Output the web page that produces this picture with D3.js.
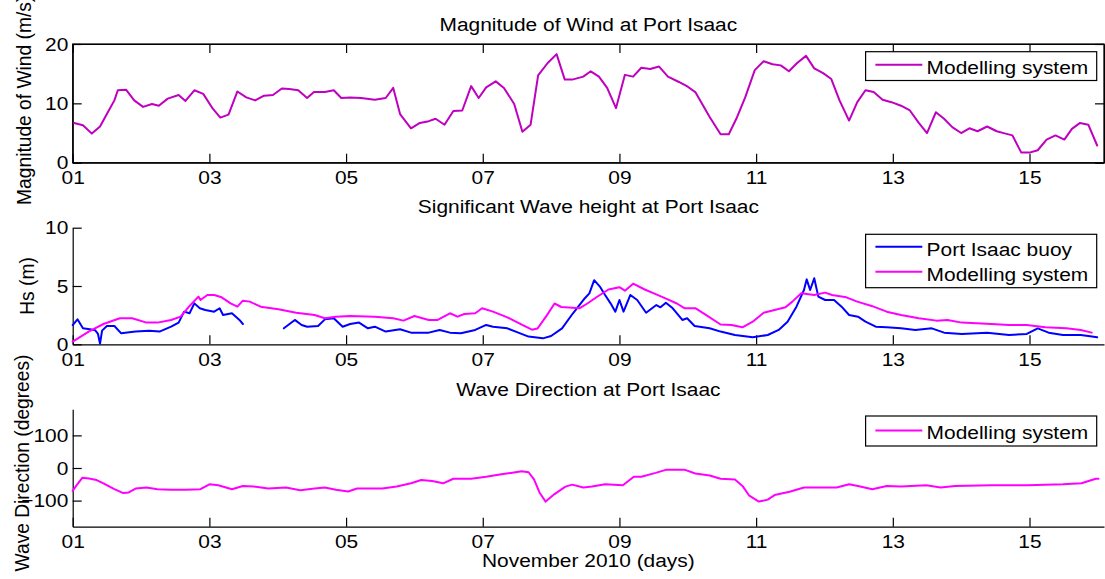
<!DOCTYPE html>
<html>
<head>
<meta charset="utf-8">
<script src="https://cdn.jsdelivr.net/npm/d3@7"></script>
<style>
  html, body { margin: 0; padding: 0; background: #fff; }
  svg { display: block; }
</style>
</head>
<body>
<svg id="chart" width="1105" height="579"></svg>
<script>
// ---- Wind speed, modelling system (m/s), time in days from 1 Nov 2010 ----
const windDay = [0.02,0.15,0.28,0.40,0.50,0.61,0.66,0.78,0.90,1.03,1.16,1.26,1.39,1.55,1.65,1.78,1.91,2.05,2.16,2.28,
  2.41,2.54,2.67,2.80,2.93,3.06,3.17,3.30,3.43,3.53,3.69,3.82,3.93,4.06,4.22,4.42,4.58,4.69,4.79,4.95,
  5.08,5.21,5.31,5.44,5.57,5.70,5.83,5.94,6.05,6.19,6.31,6.46,6.58,6.70,6.81,6.95,7.08,7.20,7.31,7.47,
  7.58,7.70,7.82,7.95,8.08,8.20,8.32,8.45,8.58,8.71,8.87,9.00,9.11,9.32,9.48,9.60,9.71,9.84,9.98,10.11,
  10.24,10.36,10.48,10.60,10.73,10.85,10.98,11.10,11.22,11.36,11.48,11.60,11.72,11.85,11.98,12.12,12.25,12.38,12.50,12.63,
  12.75,12.87,13.00,13.12,13.24,13.38,13.52,13.65,13.75,13.88,14.00,14.12,14.25,14.38,14.51,14.62,14.74,14.86,14.99];
const windSpeed = [6.7,6.3,4.9,6.1,8.2,10.5,12.2,12.3,10.5,9.4,9.9,9.6,10.8,11.4,10.4,12.2,11.6,9.1,7.6,8.1,
  12.0,11.0,10.5,11.3,11.4,12.5,12.4,12.2,10.9,11.9,11.9,12.2,10.9,11.0,10.9,10.6,10.9,12.6,8.2,5.8,
  6.7,7.0,7.4,6.4,8.7,8.8,12.9,10.9,12.7,13.7,12.6,9.9,5.2,6.4,14.7,16.8,18.3,14.0,14.0,14.5,
  15.4,14.5,12.6,9.2,14.8,14.5,16.0,15.8,16.2,14.5,13.6,12.8,11.9,7.7,4.8,4.8,7.4,11.0,15.6,17.1,
  16.6,16.4,15.4,16.8,18.0,15.9,15.1,14.1,10.5,7.1,10.2,12.2,11.9,10.6,10.2,9.6,8.8,6.7,5.0,8.5,
  7.4,6.0,5.0,5.8,5.3,6.1,5.3,4.9,4.6,1.7,1.7,2.1,3.9,4.6,3.9,5.7,6.7,6.4,2.9];

// ---- Significant wave height, modelling system (m) ----
const hsModelDay = [0.00,0.24,0.45,0.69,0.87,1.08,1.24,1.44,1.58,1.71,1.84,1.87,1.97,2.07,2.18,2.31,2.41,2.49,2.59,2.75,
  3.01,3.27,3.54,3.69,3.85,4.06,4.42,4.69,4.84,5.00,5.21,5.34,5.52,5.63,5.73,5.89,5.99,6.15,6.36,6.60,
  6.72,6.80,6.94,7.05,7.15,7.42,7.53,7.68,7.84,8.00,8.08,8.20,8.37,8.53,8.69,8.84,8.95,9.11,9.27,9.48,
  9.64,9.80,9.95,10.11,10.27,10.43,10.53,10.66,10.85,11.01,11.11,11.32,11.48,11.69,11.91,12.12,12.38,12.64,12.80,13.01,
  13.44,13.70,13.96,14.23,14.54,14.75,14.91];
const hsModel = [0.23,1.10,1.74,2.23,2.23,1.86,1.86,2.09,2.37,3.29,4.09,3.80,4.23,4.23,4.03,3.51,3.23,3.74,3.66,3.23,
  3.00,2.71,2.51,2.23,2.37,2.43,2.37,2.23,2.03,2.43,2.09,2.09,2.66,2.37,2.60,2.66,3.09,2.80,2.31,1.60,
  1.25,1.35,2.50,3.50,3.20,3.10,3.50,4.10,4.70,4.90,4.60,5.20,4.70,4.30,3.90,3.50,3.10,3.10,2.50,1.70,
  1.66,1.46,1.94,2.70,2.94,3.17,3.66,4.37,4.23,4.43,4.23,4.03,3.66,3.29,2.80,2.51,2.23,2.03,2.09,1.86,
  1.74,1.66,1.66,1.46,1.37,1.23,1.00];

// ---- Significant wave height, Port Isaac buoy (m); null marks missing records ----
const hsBuoyDay = [0.00,0.07,0.15,0.25,0.33,0.37,0.40,0.43,0.50,0.61,0.71,0.92,1.12,1.27,1.44,1.55,1.63,1.71,1.78,1.86,
  1.94,2.07,2.15,2.20,2.33,2.44,2.49,2.80,3.09,3.25,3.35,3.43,3.59,3.69,3.82,3.95,4.06,4.19,4.32,4.42,
  4.58,4.79,4.95,5.21,5.37,5.52,5.68,5.89,6.05,6.15,6.36,6.52,6.67,6.88,7.00,7.16,7.32,7.48,7.56,7.63,
  7.72,7.79,7.87,7.94,8.00,8.06,8.16,8.26,8.39,8.54,8.60,8.68,8.78,8.92,8.99,9.10,9.32,9.48,9.69,9.95,
  10.17,10.33,10.46,10.59,10.70,10.74,10.79,10.85,10.91,11.01,11.14,11.25,11.36,11.49,11.60,11.75,11.91,12.12,12.33,12.57,
  12.75,13.01,13.38,13.70,13.96,14.12,14.28,14.49,14.75,14.86,14.99];
const hsBuoy = [1.65,2.14,1.37,1.30,1.20,0.89,0.05,1.17,1.57,1.57,0.94,1.09,1.17,1.09,1.51,1.86,2.80,2.66,3.51,3.09,
  2.94,2.80,3.09,2.51,2.66,2.09,1.74,null,1.37,2.09,1.66,1.51,1.57,2.14,2.23,1.51,1.74,1.86,1.37,1.51,
  1.09,1.29,1.00,1.00,1.23,1.00,0.94,1.23,1.66,1.51,1.37,1.00,0.66,0.51,0.71,1.37,2.66,3.86,4.37,5.50,
  4.90,4.23,3.51,2.80,3.80,2.80,4.23,3.80,2.71,3.37,3.17,3.57,3.09,2.09,2.23,1.57,1.37,1.09,0.80,0.60,
  0.80,1.23,1.94,3.23,4.66,5.57,4.66,5.66,4.09,3.80,3.80,3.23,2.51,2.37,1.94,1.51,1.46,1.37,1.23,1.37,
  1.00,0.89,1.00,0.80,0.89,1.37,1.00,0.80,0.80,0.71,0.60];

// ---- Mean wave direction, modelling system (degrees) ----
const dirDay = [0.00,0.05,0.14,0.24,0.35,0.45,0.61,0.74,0.82,0.92,1.08,1.24,1.44,1.65,1.87,2.00,2.13,2.33,2.49,2.65,
  2.86,3.12,3.33,3.54,3.69,3.85,4.03,4.16,4.32,4.53,4.74,4.95,5.10,5.26,5.42,5.57,5.83,6.05,6.25,6.41,
  6.57,6.67,6.75,6.83,6.92,7.05,7.21,7.31,7.47,7.60,7.79,8.05,8.21,8.32,8.53,8.69,8.95,9.11,9.32,9.48,
  9.69,9.80,9.90,10.04,10.17,10.27,10.49,10.70,10.91,11.18,11.36,11.49,11.70,11.91,12.12,12.49,12.70,12.91,13.44,13.97,
  14.49,14.76,14.97,15.01];
const dirModel = [-70,-55,-30,-32,-37,-47,-65,-77,-75,-63,-60,-65,-67,-67,-65,-50,-53,-65,-55,-57,
  -63,-60,-68,-63,-60,-67,-72,-63,-63,-63,-57,-47,-37,-40,-47,-33,-33,-27,-20,-15,
  -10,-13,-35,-75,-103,-80,-57,-51,-60,-57,-50,-53,-27,-27,-15,-5,-5,-17,-23,-33,
  -35,-55,-85,-103,-97,-83,-73,-60,-60,-60,-50,-55,-65,-55,-57,-53,-60,-55,-53,-53,
  -50,-47,-33,-33];

// ---- Axis ticks ----
const dayTicks = [0, 2, 4, 6, 8, 10, 12, 14];
const windTicks = [0, 10, 20];
const hsTicks = [0, 5, 10];
const dirTicks = [-100, 0, 100];

const FONT = "'Liberation Sans', Arial, Helvetica, sans-serif";
const FS = 19.2;      // font size
const SX = 1.09;      // horizontal stretch of the lettering
const LEFT = 72.7, RIGHT = 1104;
const TICK = 9;

const svg = d3.select("#chart");
const x = d3.scaleLinear().domain([0, 15.09]).range([LEFT, RIGHT]);
const dayFmt = d => d3.format("02d")(d + 1);

function txt(px, py, s, anchor, rot) {
  const g = svg.append("g")
    .attr("transform", `translate(${px},${py}) scale(${SX},1)` + (rot ? ` rotate(${rot})` : ""));
  g.append("text")
    .attr("text-anchor", anchor)
    .attr("font-family", FONT)
    .attr("font-size", FS)
    .attr("fill", "#000")
    .text(s);
}

function styleAxis(g) {
  g.attr("font-family", FONT).attr("font-size", FS);
  g.select(".domain").attr("stroke", "#000").attr("stroke-width", 1.2);
  g.selectAll(".tick line").attr("stroke", "#000").attr("stroke-width", 1.2);
  g.selectAll(".tick text").attr("fill", "#000").attr("transform", `scale(${SX},1)`);
}

function panel(cfg) {
  const y = d3.scaleLinear().domain(cfg.domain).range([cfg.bottom, cfg.top]);

  if (cfg.box) {
    svg.append("rect")
      .attr("x", LEFT).attr("y", cfg.top)
      .attr("width", RIGHT - LEFT).attr("height", cfg.bottom - cfg.top)
      .attr("fill", "none").attr("stroke", "#000").attr("stroke-width", 1.2);
    svg.append("g").attr("transform", `translate(0,${cfg.top})`)
      .call(d3.axisTop(x).tickValues(dayTicks).tickFormat("").tickSizeInner(-TICK).tickSizeOuter(0))
      .call(styleAxis);
    svg.append("g").attr("transform", `translate(${RIGHT},0)`)
      .call(d3.axisRight(y).tickValues(cfg.ticks).tickFormat("").tickSizeInner(-TICK).tickSizeOuter(0))
      .call(styleAxis);
  }

  svg.append("g").attr("transform", `translate(0,${cfg.bottom})`)
    .call(d3.axisBottom(x).tickValues(dayTicks).tickFormat(dayFmt)
      .tickSizeInner(-TICK).tickSizeOuter(0).tickPadding(7.7))
    .call(styleAxis);

  svg.append("g").attr("transform", `translate(${LEFT},0)`)
    .call(d3.axisLeft(y).tickValues(cfg.ticks).tickFormat(d3.format("d"))
      .tickSizeInner(-TICK).tickSizeOuter(0).tickPadding(4.0))
    .call(styleAxis);

  cfg.series.forEach(s => {
    const pts = s.days.map((d, i) => [d, s.values[i]]);
    svg.append("path")
      .datum(pts)
      .attr("fill", "none")
      .attr("stroke", s.color)
      .attr("stroke-width", 2)
      .attr("stroke-linejoin", "round")
      .attr("stroke-linecap", "round")
      .attr("d", d3.line().defined(p => p[1] !== null).x(p => x(p[0])).y(p => y(p[1])));
  });

  // title and y label
  txt((LEFT + RIGHT) / 2, cfg.titleY, cfg.title, "middle");
  txt(cfg.ylabelX, (cfg.top + cfg.bottom) / 2 + (cfg.ylabelShift || 0), cfg.ylabel, "middle", -90);

  // legend
  const lg = cfg.legend;
  svg.append("rect")
    .attr("x", 865.6).attr("y", lg.top)
    .attr("width", 231.1).attr("height", lg.height)
    .attr("fill", "#fff").attr("stroke", "#000").attr("stroke-width", 1.2);
  lg.items.forEach((it, i) => {
    const ly = lg.lineY + i * 25;
    svg.append("line")
      .attr("x1", 875.4).attr("x2", 922.3)
      .attr("y1", ly).attr("y2", ly)
      .attr("stroke", it.color).attr("stroke-width", 2);
    txt(926.6, ly + 8.8, it.name, "start");
  });
}

const PURPLE = "#bf00bf", MAGENTA = "#ff00ff", BLUE = "#0000ff";

panel({
  top: 44, bottom: 162.7, domain: [0, 20], ticks: windTicks, box: true,
  title: "Magnitude of Wind at Port Isaac", titleY: 30.5,
  ylabel: "Magnitude of Wind (m/s)", ylabelX: 31, ylabelShift: -3,
  series: [{ days: windDay, values: windSpeed, color: PURPLE }],
  legend: { top: 51.7, height: 28.8, lineY: 64.8,
    items: [{ name: "Modelling system", color: PURPLE }] }
});

panel({
  top: 227.7, bottom: 344.3, domain: [0, 10], ticks: hsTicks, box: false,
  title: "Significant Wave height at Port Isaac", titleY: 213,
  ylabel: "Hs (m)", ylabelX: 33.5,
  series: [
    { days: hsBuoyDay, values: hsBuoy, color: BLUE },
    { days: hsModelDay, values: hsModel, color: MAGENTA }
  ],
  legend: { top: 234.3, height: 53.4, lineY: 246.7,
    items: [{ name: "Port Isaac buoy", color: BLUE }, { name: "Modelling system", color: MAGENTA }] }
});

panel({
  top: 409.3, bottom: 526.7, domain: [-180, 180], ticks: dirTicks, box: false,
  title: "Wave Direction at Port Isaac", titleY: 395.5,
  ylabel: "Wave Direction (degrees)", ylabelX: 28.5, ylabelShift: -5,
  series: [{ days: dirDay, values: dirModel, color: MAGENTA }],
  legend: { top: 416, height: 30, lineY: 430.5,
    items: [{ name: "Modelling system", color: MAGENTA }] }
});

txt((LEFT + RIGHT) / 2, 567, "November 2010 (days)", "middle");
</script>
</body>
</html>
